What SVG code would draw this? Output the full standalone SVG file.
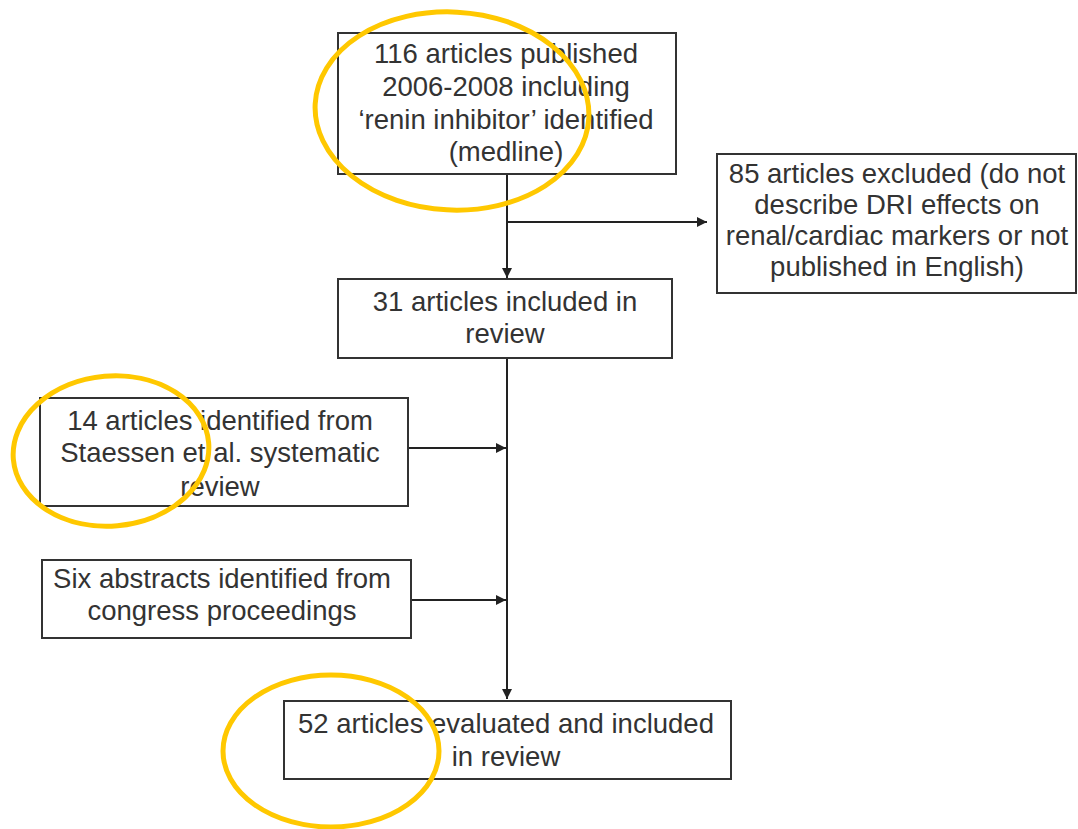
<svg xmlns="http://www.w3.org/2000/svg" width="1078" height="829" viewBox="0 0 1078 829">
<defs>
<marker id="arr" viewBox="0 0 10 10" refX="10" refY="5" markerWidth="10" markerHeight="10" markerUnits="userSpaceOnUse" orient="auto">
<path d="M0,0 L10,5 L0,10 z" fill="#222"/>
</marker>
<style>
.box{fill:#fff;stroke:#333;stroke-width:2}
.t{font-family:"Liberation Sans",Arial,sans-serif;font-size:27.5px;fill:#333;text-anchor:middle}
.c{fill:none;stroke:#222;stroke-width:2}
.hl{fill:none;stroke:#FFC800;stroke-width:5}
</style>
</defs>
<rect width="1078" height="829" fill="#fff"/>
<g id="connectors">
<path class="c" d="M507,174 V278" marker-end="url(#arr)"/>
<path class="c" d="M507,222 H707" marker-end="url(#arr)"/>
<path class="c" d="M507,358 V699" marker-end="url(#arr)"/>
<path class="c" d="M408,448 H506" marker-end="url(#arr)"/>
<path class="c" d="M411,600 H506" marker-end="url(#arr)"/>
</g>
<g id="n1">
<rect class="box" x="338" y="33" width="338" height="141"/>
<text class="t" x="506" y="63">116 articles published</text>
<text class="t" x="506" y="96">2006-2008 including</text>
<text class="t" x="506" y="129">‘renin inhibitor’ identified</text>
<text class="t" x="506" y="161">(medline)</text>
</g>
<g id="n2">
<rect class="box" x="717" y="154" width="359" height="139"/>
<text class="t" x="897" y="183">85 articles excluded (do not</text>
<text class="t" x="897" y="214">describe DRI effects on</text>
<text class="t" x="897" y="245">renal/cardiac markers or not</text>
<text class="t" x="897" y="276">published in English)</text>
</g>
<g id="n3">
<rect class="box" x="338" y="279" width="334" height="79"/>
<text class="t" x="505" y="311">31 articles included in</text>
<text class="t" x="505" y="343">review</text>
</g>
<g id="n4">
<rect class="box" x="40" y="398" width="368" height="108"/>
<text class="t" x="220" y="430">14 articles identified from</text>
<text class="t" x="220" y="462">Staessen et al. systematic</text>
<text class="t" x="220" y="496">review</text>
</g>
<g id="n5">
<rect class="box" x="42" y="560" width="369" height="78"/>
<text class="t" x="222" y="588">Six abstracts identified from</text>
<text class="t" x="222" y="620">congress proceedings</text>
</g>
<g id="n6">
<rect class="box" x="284" y="701" width="447" height="78"/>
<text class="t" x="506" y="733">52 articles evaluated and included</text>
<text class="t" x="506" y="766">in review</text>
</g>
<g id="highlights">
<ellipse class="hl" cx="452" cy="111" rx="137" ry="99" transform="rotate(3 452 111)"/>
<ellipse class="hl" cx="111" cy="451" rx="98" ry="75" transform="rotate(-5 111 451)"/>
<ellipse class="hl" cx="331" cy="751" rx="108" ry="76"/>
</g>
</svg>
